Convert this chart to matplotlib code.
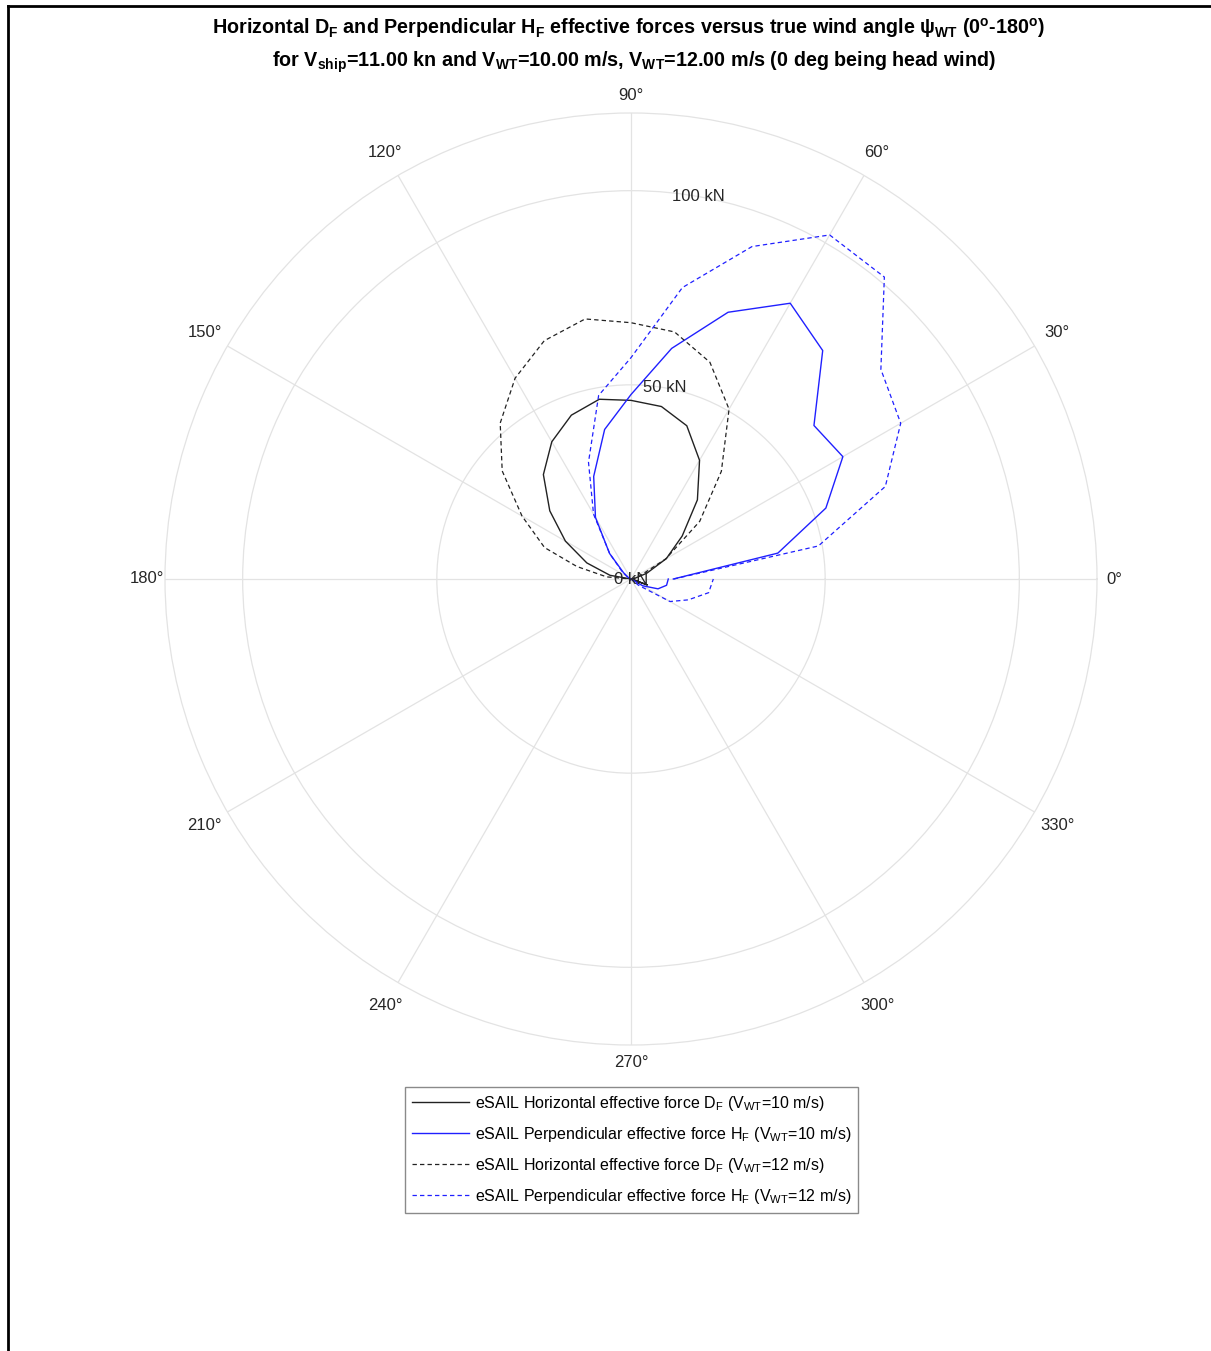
import numpy as np
import matplotlib
matplotlib.use("Agg")
import matplotlib.pyplot as plt
from matplotlib.lines import Line2D

plt.rcParams['font.family'] = ['Liberation Sans', 'DejaVu Sans']
plt.rcParams['mathtext.fontset'] = 'custom'
plt.rcParams['mathtext.rm'] = 'Liberation Sans'
plt.rcParams['mathtext.it'] = 'Liberation Sans:italic'
plt.rcParams['mathtext.bf'] = 'Liberation Sans:bold'

# true wind angle (deg) and effective forces (kN)
ang_D10 = [0, 10, 20, 30, 40, 50, 60, 70, 80, 90, 100, 110, 120, 130, 140, 150, 160, 170, 180, 340, 350]
D10 = [0, 1.0, 4.3, 10.5, 17.2, 26.6, 35.3, 42.0, 45.1, 46.0, 47.0, 44.9, 40.8, 35.1, 27.3, 19.5, 12.1, 5.5, 0, 4.5, 0.5]

ang_H10 = [0, 10, 20, 30, 40, 50, 60, 70, 80, 90, 100, 110, 120, 130, 140, 150, 160, 170, 180, 320, 330, 340, 350, 360]
H10 = [10.9, 38.4, 53.4, 63.0, 61.5, 76.8, 82.0, 73.1, 60.3, 47.5, 39.1, 28.1, 18.3, 8.6, 2.5, 0.8, 0.3, 0, 0,
       0, 3.5, 7.4, 9.3, 9.6]

ang_D12 = [0, 10, 20, 30, 40, 50, 60, 70, 80, 90, 100, 110, 120, 130, 140, 150, 160, 167, 175, 180]
D12 = [0, 0.5, 2.5, 10.3, 23.1, 36.2, 50.5, 59.4, 64.6, 66.0, 68.0, 65.3, 59.7, 52.4, 43.3, 32.4, 23.7, 14.3, 6.3, 0]

ang_H12 = [0, 10, 20, 30, 40, 50, 60, 70, 80, 90, 100, 110, 120, 130, 140, 150, 160, 170, 180, 320, 330, 340, 350, 360]
H12 = [11.0, 49.0, 69.7, 80.2, 84.0, 101.5, 102.3, 91.1, 76.2, 57.0, 48.0, 32.0, 19.3, 8.5, 3.0, 1.0, 0.5, 0, 0,
       2.5, 11.6, 15.7, 20.3, 21.2]

labels = [r'eSAIL Horizontal effective force D$_\mathrm{F}$ (V$_\mathrm{WT}$=10 m/s)',
          r'eSAIL Perpendicular effective force H$_\mathrm{F}$ (V$_\mathrm{WT}$=10 m/s)',
          r'eSAIL Horizontal effective force D$_\mathrm{F}$ (V$_\mathrm{WT}$=12 m/s)',
          r'eSAIL Perpendicular effective force H$_\mathrm{F}$ (V$_\mathrm{WT}$=12 m/s)']

rticks = [0, 50, 100]
rticklabels = ['0 kN', '50 kN', '100 kN']
thetaticks = list(range(0, 360, 30))

W, H = 1211, 1351
fig = plt.figure(figsize=(W / 100, H / 100), dpi=100)
cx, cy, R = 631, 579, 466
ax = fig.add_axes([(cx - R) / W, (H - cy - R) / H, 2 * R / W, 2 * R / H], projection='polar')

ax.plot(np.deg2rad(ang_D10), D10, color='#222222', lw=1.0, label=labels[0])
ax.plot(np.deg2rad(ang_H10), H10, color='#2020ff', lw=1.0, label=labels[1])
ax.plot(np.deg2rad(ang_D12), D12, color='#222222', lw=0.9, ls=(0, (3.5, 2.5)), label=labels[2])
ax.plot(np.deg2rad(ang_H12), H12, color='#2020ff', lw=0.9, ls=(0, (3.5, 2.5)), label=labels[3])

rmax = 120
ax.set_ylim(0, rmax)
ax.set_yticks(rticks)
ax.set_yticklabels([])
for r, t in zip(rticks, rticklabels):
    ax.text(np.deg2rad(80), r, t, ha='center', va='center', fontsize=12, color='#262626')

# angle labels centred just outside the outer ring
ax.set_xticks(np.deg2rad(thetaticks))
ax.set_xticklabels([])
for a in thetaticks:
    rl = rmax * (1.038 if a % 90 == 0 else 1.056)
    ax.text(np.deg2rad(a), rl, f'{a}°', ha='center', va='center',
            fontsize=12, color='#262626', clip_on=False)

ax.grid(color='#e3e3e3', lw=0.9)
ax.spines['polar'].set_color('#e3e3e3')
ax.spines['polar'].set_linewidth(0.9)

fig.text(629 / W, 1 - 28 / H,
         r'Horizontal D$_\mathbf{F}$ and Perpendicular H$_\mathbf{F}$ effective forces versus true wind angle '
         r'ψ$_\mathbf{WT}$ (0$^\mathbf{o}$-180$^\mathbf{o}$)',
         ha='center', va='center', fontsize=14.2, fontweight='bold')
fig.text(634 / W, 1 - 62 / H,
         r'for V$_\mathbf{ship}$=11.00 kn and V$_\mathbf{WT}$=10.00 m/s, V$_\mathbf{WT}$=12.00 m/s (0 deg being head wind)',
         ha='center', va='center', fontsize=14.2, fontweight='bold')

leg = fig.legend(loc='center', bbox_to_anchor=(631.5 / W, 1 - 1150 / H), fontsize=11.5,
                 handlelength=3.6, handletextpad=0.35, labelspacing=0.75, borderpad=0.45,
                 fancybox=False, framealpha=1)
leg.get_frame().set_edgecolor('#8a8a8a')
leg.get_frame().set_linewidth(1.0)

# frame edges at left and top
fig.add_artist(Line2D([8 / W, 8 / W], [0, 1 - 6 / H], color='black', lw=2))
fig.add_artist(Line2D([8 / W, 1], [1 - 6 / H, 1 - 6 / H], color='black', lw=2))

fig.savefig('out.png', dpi=100)
